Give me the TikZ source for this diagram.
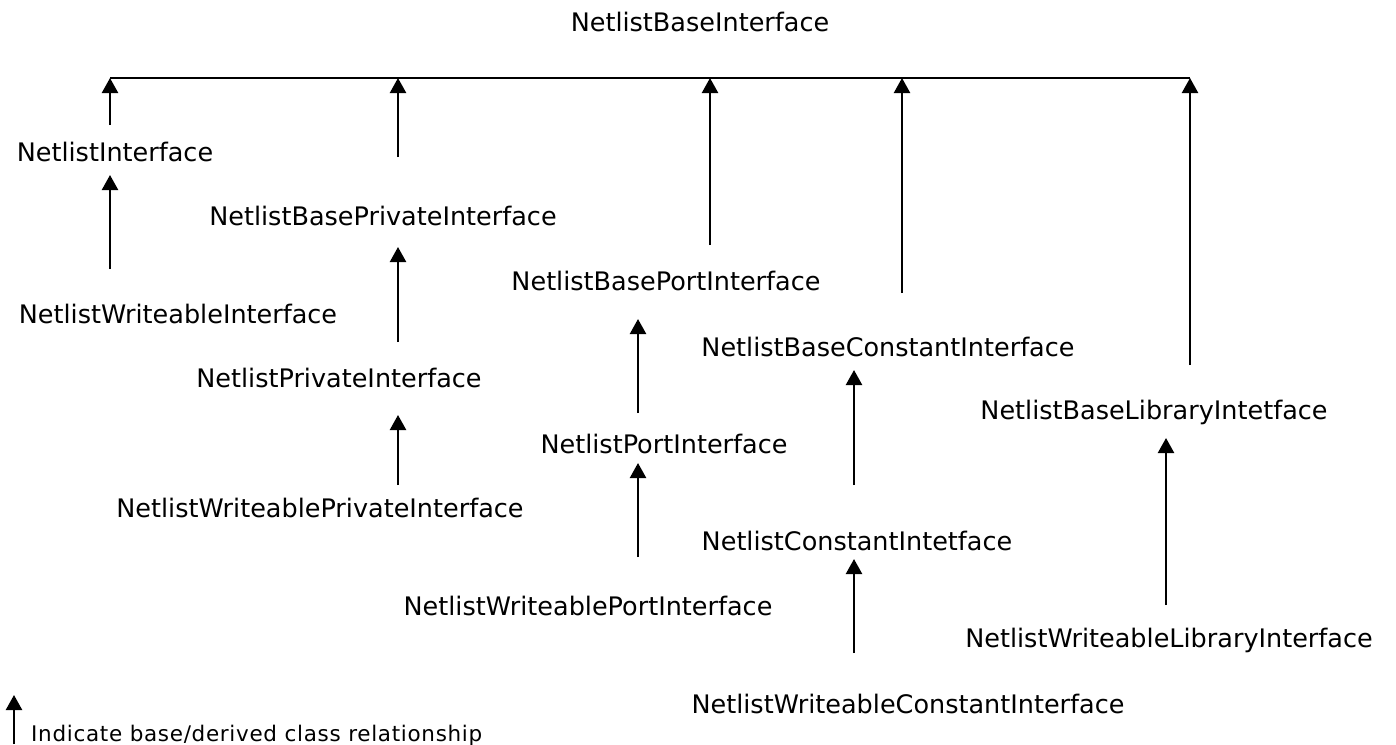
\documentclass[tikz,border=0pt]{standalone}
\usepackage{fontspec}
\setmainfont{DejaVu Sans}
\usetikzlibrary{arrows.meta}
\begin{document}
\begin{tikzpicture}[x=1pt,y=-1pt,
  cls/.style={inner sep=0pt, anchor=base, font=\fontsize{25.5}{30}\selectfont},
  inh/.style={line width=2.3pt, -{Triangle[length=15pt,width=16pt]}},
  bar/.style={line width=2.3pt}]
\useasboundingbox (0,0) rectangle (1396,744);
% classes
\node[cls] (base) at (700,31)  {NetlistBaseInterface};
\node[cls] (ni)   at (115,161) {NetlistInterface};
\node[cls] (wi)   at (178,323) {NetlistWriteableInterface};
\node[cls] (bpi)  at (383,225) {NetlistBasePrivateInterface};
\node[cls] (pi)   at (339,387) {NetlistPrivateInterface};
\node[cls] (wpi)  at (320,517) {NetlistWriteablePrivateInterface};
\node[cls] (bpo)  at (666,290) {NetlistBasePortInterface};
\node[cls] (po)   at (664,453) {NetlistPortInterface};
\node[cls] (wpo)  at (588,615) {NetlistWriteablePortInterface};
\node[cls] (bci)  at (888,356) {NetlistBaseConstantInterface};
\node[cls] (ci)   at (857,550) {NetlistConstantIntetface};
\node[cls] (wci)  at (908,713) {NetlistWriteableConstantInterface};
\node[cls] (bli)  at (1154,419) {NetlistBaseLibraryIntetface};
\node[cls] (wli)  at (1169,647) {NetlistWriteableLibraryInterface};
% junctions on the bar
\coordinate (j1) at (110,78);
\coordinate (j2) at (398,78);
\coordinate (j3) at (710,78);
\coordinate (j4) at (902,78);
\coordinate (j5) at (1190,78);
\draw[bar] (j1) -- (j5);
% arrows to the base bar
\coordinate (s1) at (110,125);
\coordinate (s2) at (398,157);
\coordinate (s3) at (710,245);
\coordinate (s4) at (902,293);
\coordinate (s5) at (1190,365);
\draw[inh] (s1) -- (j1);
\draw[inh] (s2) -- (j2);
\draw[inh] (s3) -- (j3);
\draw[inh] (s4) -- (j4);
\draw[inh] (s5) -- (j5);
% derived arrows
\coordinate (a1) at (110,269);  \coordinate (b1) at (110,175);
\coordinate (a2) at (398,342);  \coordinate (b2) at (398,247);
\coordinate (a3) at (398,485);  \coordinate (b3) at (398,415);
\coordinate (a4) at (638,413);  \coordinate (b4) at (638,319);
\coordinate (a5) at (638,557);  \coordinate (b5) at (638,463);
\coordinate (a6) at (854,485);  \coordinate (b6) at (854,370);
\coordinate (a7) at (854,653);  \coordinate (b7) at (854,559);
\coordinate (a8) at (1166,605); \coordinate (b8) at (1166,438);
\draw[inh] (a1) -- (b1);
\draw[inh] (a2) -- (b2);
\draw[inh] (a3) -- (b3);
\draw[inh] (a4) -- (b4);
\draw[inh] (a5) -- (b5);
\draw[inh] (a6) -- (b6);
\draw[inh] (a7) -- (b7);
\draw[inh] (a8) -- (b8);
% legend
\coordinate (la) at (14,744);
\coordinate (lb) at (14,695);
\draw[inh] (la) -- (lb);
\node[inner sep=0pt, anchor=base west, font=\fontsize{21.5}{26}\selectfont\addfontfeature{LetterSpace=3.2}] (leg) at (31,741) {Indicate base/derived class relationship};
\end{tikzpicture}
\end{document}
